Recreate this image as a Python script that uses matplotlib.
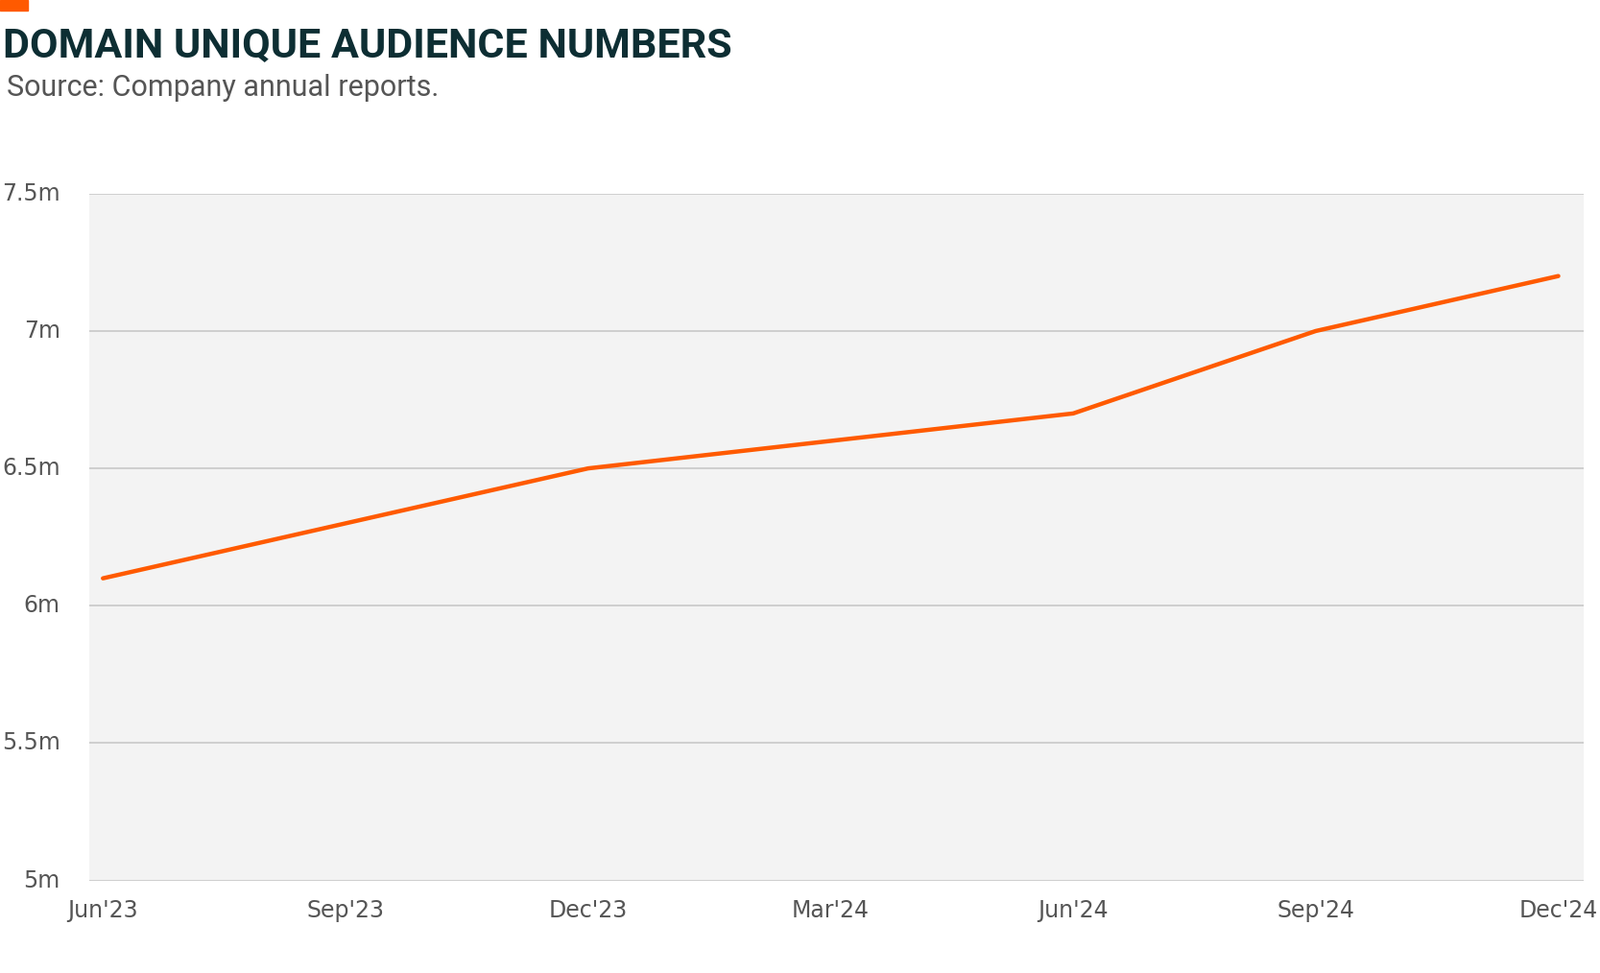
import matplotlib.pyplot as plt
from matplotlib.patches import Rectangle

# quarter index: 0 = Jun'23 ... 6 = Dec'24
quarters = ["Jun'23", "Sep'23", "Dec'23", "Mar'24", "Jun'24", "Sep'24", "Dec'24"]
point_q = [0, 2, 4, 5, 6]
audience = [6.1, 6.5, 6.7, 7.0, 7.2]
yticks = [5, 5.5, 6, 6.5, 7, 7.5]
ylabels = ["5m", "5.5m", "6m", "6.5m", "7m", "7.5m"]

orange = "#ff5a00"
fig = plt.figure(figsize=(16.67, 10.14), dpi=100)
ax = fig.add_axes([0.056, 0.095, 0.934, 0.706])
ax.set_facecolor("#f3f3f3")
ax.plot(point_q, audience, color=orange, lw=3.2, solid_capstyle="round")
ax.set_xlim(-0.055, 6.106)
ax.set_ylim(5, 7.5)
ax.set_yticks(yticks)
ax.set_yticklabels(ylabels)
ax.set_xticks(range(len(quarters)))
ax.set_xticklabels(quarters)
ax.grid(axis="y", color="#c8c8c8", lw=1.2)
ax.set_axisbelow(True)
for s in ax.spines.values():
    s.set_visible(False)
ax.tick_params(length=0, labelsize=17, colors="#555555", pad=14)
for lab in ax.get_yticklabels():
    lab.set_verticalalignment("center")
ax.tick_params(axis="y", pad=22)

fig.patches.append(Rectangle((0, 1 - 11 / 1014), 29 / 1667, 11 / 1014,
                             transform=fig.transFigure, color=orange))
fig.text(0.002, 0.952, "DOMAIN UNIQUE AUDIENCE NUMBERS", fontsize=31,
         fontweight="bold", color="#0d2e33", va="center", family="Roboto")
fig.text(0.004, 0.91, "Source: Company annual reports.", fontsize=22,
         color="#555555", va="center", family="Roboto")

plt.savefig("out.png")
